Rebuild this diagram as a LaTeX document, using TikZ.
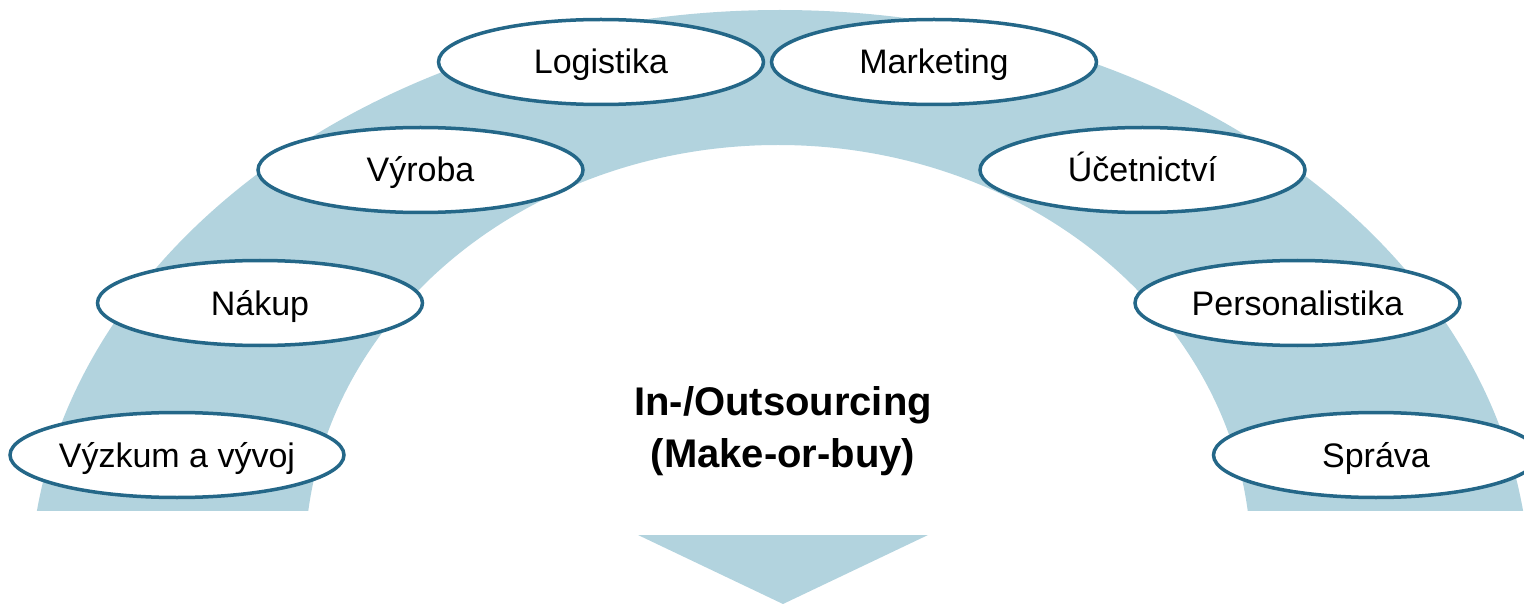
\documentclass[tikz,border=0pt]{standalone}
\usepackage{fontspec}
\setmainfont{Liberation Sans}
\usetikzlibrary{shapes.geometric}
\definecolor{bandblue}{RGB}{178,211,222}
\definecolor{rimblue}{RGB}{36,103,136}
\begin{document}
\begin{tikzpicture}[x=1pt,y=-1pt,
  func/.style={ellipse, draw=rimblue, line width=3.5pt, fill=white,
    minimum width=325pt, minimum height=85pt, inner sep=0pt,
    font=\fontsize{34}{40}\selectfont, text height=24pt, text depth=0pt},
  centertext/.style={anchor=base, inner sep=0pt,
    font=\fontsize{40}{52}\selectfont\bfseries}]
\useasboundingbox (0,0) rectangle (1524,604);
\clip (0,0) rectangle (1524,604);
% band
\begin{scope}
  \clip (0,0) rectangle (1524,510);
  \fill[bandblue, even odd rule]
    (780,590) ellipse [x radius=750pt, y radius=580pt]
    (778,560) ellipse [x radius=473pt, y radius=415pt];
\end{scope}
% arrow triangle
\fill[bandblue] (638,535) -- (928,535) -- (783,604) -- cycle;
% functions
\node[func] (vyzkum) at (177,455) {Výzkum a vývoj};
\node[func] (nakup) at (260,303) {Nákup};
\node[func] (vyroba) at (420.5,170) {Výroba};
\node[func] (logistika) at (601,62) {Logistika};
\node[func] (marketing) at (934,62) {Marketing};
\node[func] (ucetnictvi) at (1142.5,170) {Účetnictví};
\node[func] (personal) at (1297.5,303) {Personalistika};
\node[func] (sprava) at (1376,455) {Správa};
% centre text
\node[centertext] (inout) at (783,415) {In-/Outsourcing};
\node[centertext] (makebuy) at (783,467) {(Make-or-buy)};
\end{tikzpicture}
\end{document}
